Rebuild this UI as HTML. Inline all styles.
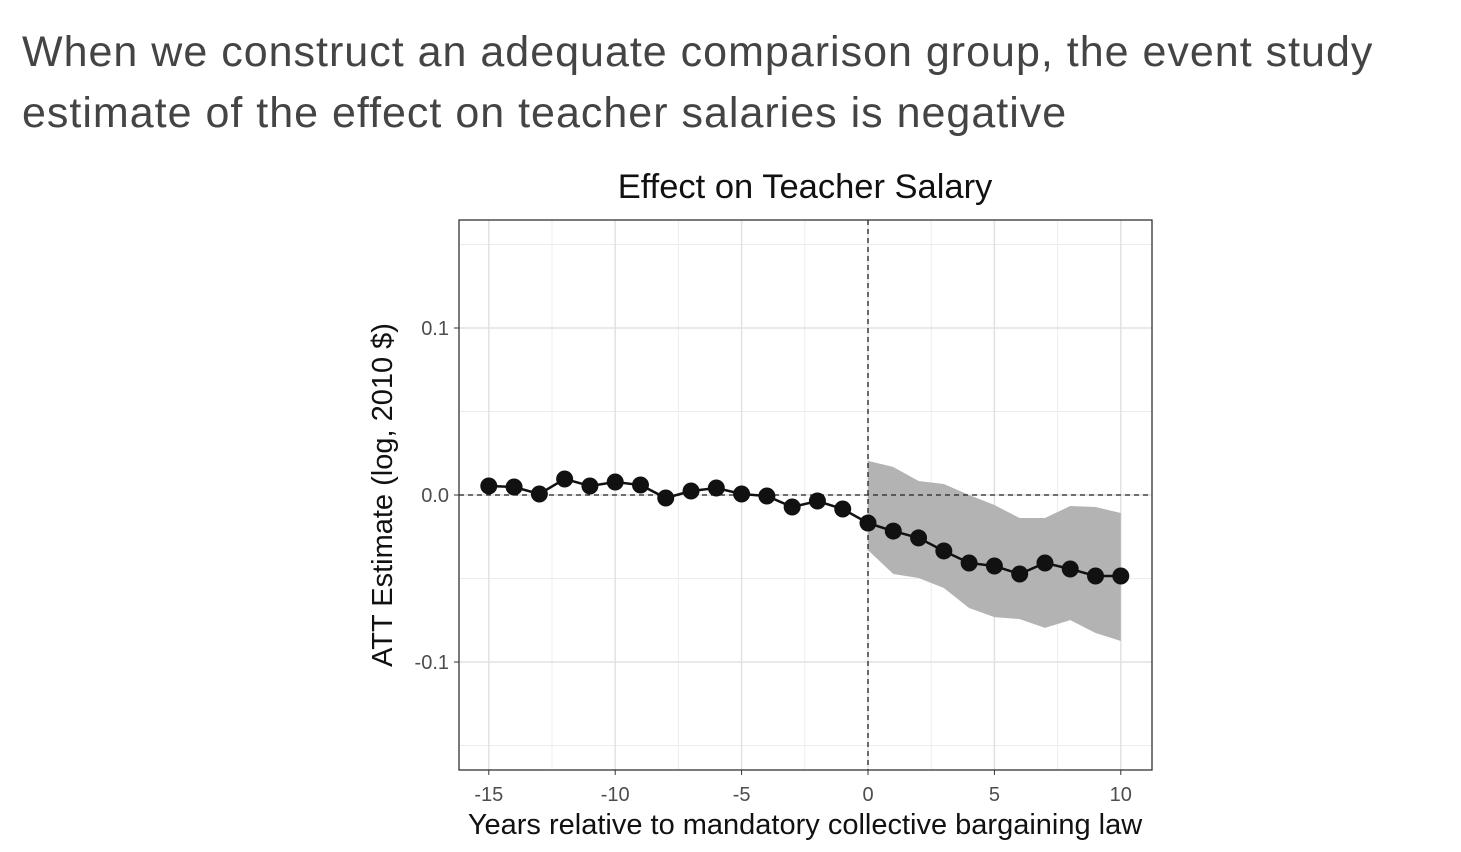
<!DOCTYPE html>
<html><head><meta charset="utf-8"><style>
body{margin:0;background:#fff;width:1461px;height:852px;overflow:hidden;font-family:"Liberation Sans",sans-serif}
#heading{position:absolute;left:22px;top:22px;font-size:43px;letter-spacing:1.0px;line-height:61px;color:#444;margin:0;font-weight:normal;white-space:nowrap}
</style></head><body>
<h1 id="heading">When we construct an adequate comparison group, the event study<br>estimate of the effect on teacher salaries is negative</h1>
<svg id="chart" width="1461" height="852" style="position:absolute;left:0;top:0"></svg>
<script>
const years=[-15,-14,-13,-12,-11,-10,-9,-8,-7,-6,-5,-4,-3,-2,-1,0,1,2,3,4,5,6,7,8,9,10];
const estimates=[0.0054,0.0048,0.0006,0.0096,0.0054,0.0078,0.006,-0.0018,0.0024,0.0042,0.0006,-0.0006,-0.0072,-0.0036,-0.0084,-0.0168,-0.0216,-0.0257,-0.0335,-0.0407,-0.0425,-0.0473,-0.0407,-0.0443,-0.0485,-0.0485];
const ciYears=[0,1,2,3,4,5,6,7,8,9,10];
const ciUpper=[0.0204,0.0168,0.0084,0.0066,0,-0.006,-0.0138,-0.0138,-0.0066,-0.0072,-0.0108];
const ciLower=[-0.033,-0.0473,-0.0497,-0.0557,-0.0677,-0.0731,-0.0743,-0.0796,-0.0749,-0.0826,-0.0874];
const xTicks=[-15,-10,-5,0,5,10];
const xTickLabels=["-15","-10","-5","0","5","10"];
const yTicks=[-0.1,0,0.1];
const yTickLabels=["-0.1","0.0","0.1"];
const ns="http://www.w3.org/2000/svg",svg=document.getElementById('chart');
const L=459,R=1152,T=220,B=770;
const xs=v=>868+v*25.28, ys=v=>495-v*1670;
function el(t,a,p){const e=document.createElementNS(ns,t);for(const k in a)e.setAttribute(k,a[k]);(p||svg).appendChild(e);return e;}
el('rect',{x:L,y:T,width:R-L,height:B-T,fill:'#fff'});
[-0.15,-0.05,0.05,0.15].forEach(v=>{const g=el('line',{x1:L,x2:R,y1:ys(v),y2:ys(v),stroke:'#ececec','stroke-width':1});

});
[-12.5,-7.5,-2.5,2.5,7.5].forEach(v=>{const g=el('line',{x1:xs(v),x2:xs(v),y1:T,y2:B,stroke:'#ececec','stroke-width':1});

});
yTicks.forEach((v,i)=>{const g=el('line',{x1:L,x2:R,y1:ys(v),y2:ys(v),stroke:'#e2e2e2','stroke-width':1.5});


el('line',{x1:L-5,x2:L,y1:ys(v),y2:ys(v),stroke:'#333'});
const t=el('text',{x:L-10,y:ys(v)+7,'text-anchor':'end','font-size':20,fill:'#4d4d4d'});t.textContent=yTickLabels[i];

});
xTicks.forEach((v,i)=>{const g=el('line',{x1:xs(v),x2:xs(v),y1:T,y2:B,stroke:'#e2e2e2','stroke-width':1.5});


el('line',{x1:xs(v),x2:xs(v),y1:B,y2:B+5,stroke:'#333'});
const t=el('text',{x:xs(v),y:B+31,'text-anchor':'middle','font-size':20,fill:'#4d4d4d'});t.textContent=xTickLabels[i];

});
let pts=ciYears.map((y,i)=>xs(y)+','+ys(ciUpper[i]));
for(let i=ciYears.length-1;i>=0;i--)pts.push(xs(ciYears[i])+','+ys(ciLower[i]));
const rib=el('polygon',{points:pts.join(' '),fill:'#b3b3b3'});


const h=el('line',{x1:L,x2:R,y1:ys(0),y2:ys(0),stroke:'#222','stroke-width':1.3,'stroke-dasharray':'5,4'});


const vl=el('line',{x1:xs(0),x2:xs(0),y1:T,y2:B,stroke:'#222','stroke-width':1.3,'stroke-dasharray':'5,4'});


const line=el('polyline',{points:years.map((y,i)=>xs(y)+','+ys(estimates[i])).join(' '),fill:'none',stroke:'#111','stroke-width':2.5});


years.forEach((y,i)=>{const c=el('circle',{cx:xs(y),cy:ys(estimates[i]),r:8.5,fill:'#111'});

});
const fr=el('rect',{x:L,y:T,width:R-L,height:B-T,fill:'none',stroke:'#333','stroke-width':1.3});


const ti=el('text',{x:805,y:198,'text-anchor':'middle','font-size':34.5,fill:'#111'});ti.textContent='Effect on Teacher Salary';


const xl=el('text',{x:805,y:834,'text-anchor':'middle','font-size':29,fill:'#111'});xl.textContent='Years relative to mandatory collective bargaining law';


const yl=el('text',{x:0,y:0,'text-anchor':'middle','font-size':29,fill:'#111',transform:'translate(392,495) rotate(-90)'});yl.textContent='ATT Estimate (log, 2010 $)';


</script>
</body></html>
